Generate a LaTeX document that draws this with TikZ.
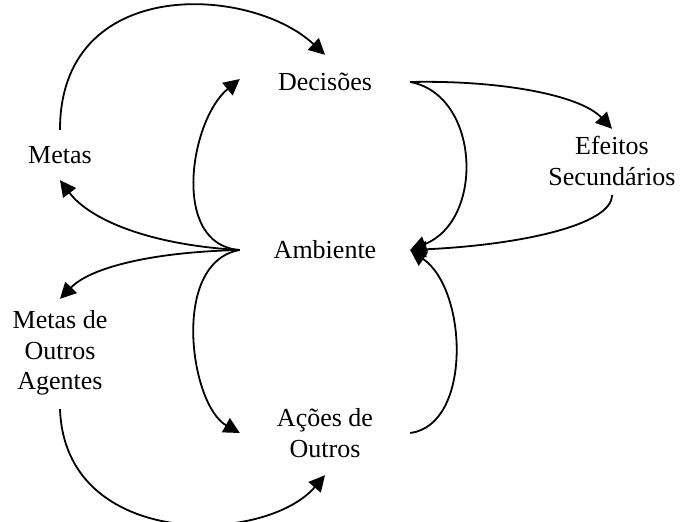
\documentclass[tikz,border=0pt]{standalone}
\usepackage{fontspec}
\setmainfont{Liberation Serif}
\usetikzlibrary{arrows.meta}
\begin{document}
\begin{tikzpicture}[x=1pt,y=-1pt,
  lbl/.style={inner sep=0pt,align=center,font=\fontsize{26}{30.5}\selectfont},
  link/.style={line width=1.8pt,-{Triangle[length=16pt,width=16pt]}}]
\useasboundingbox (0,0) rectangle (680,522);

% concepts
\node[lbl,minimum width=170pt,minimum height=54pt] (dec) at (325,82) {Decisões};
\node[lbl,minimum width=64pt,minimum height=50pt] (met) at (60,155) {Metas};
\node[lbl,minimum width=170pt,minimum height=24pt] (amb) at (325,250) {Ambiente};
\node[lbl,minimum width=130pt,minimum height=68pt] (efe) at (612,161) {Efeitos\\Secundários};
\node[lbl,minimum width=96pt,minimum height=112pt] (moa) at (60,353) {Metas de\\Outros\\Agentes};
\node[lbl,minimum width=170pt,minimum height=84pt] (aco) at (325,433) {Ações de\\Outros};

% influences
\draw[link] (met.north) .. controls (60,-25) and (250,-15) .. (dec.north);
\draw[link] (amb.west) .. controls (170,245) and (190,120) .. ([yshift=3pt]dec.west);
\draw[link] (amb.west) .. controls (150,245) and (90,220) .. (met.south);
\draw[link] (amb.west) .. controls (150,252) and (90,268) .. ([yshift=-2pt]moa.north);
\draw[link] (amb.west) .. controls (170,262) and (190,405) .. (aco.west);
\draw[link] (moa.south) .. controls (65,550) and (265,545) .. (aco.south);
\draw[link] (aco.east) .. controls (472,425) and (468,290) .. (amb.east);
\draw[link] (dec.east) .. controls (480,95) and (485,220) .. (amb.east);
\draw[link] (dec.east) .. controls (500,80) and (580,95) .. ([yshift=-2pt]efe.north);
\draw[link] (efe.south) .. controls (612,225) and (520,245) .. (amb.east);
\end{tikzpicture}
\end{document}
